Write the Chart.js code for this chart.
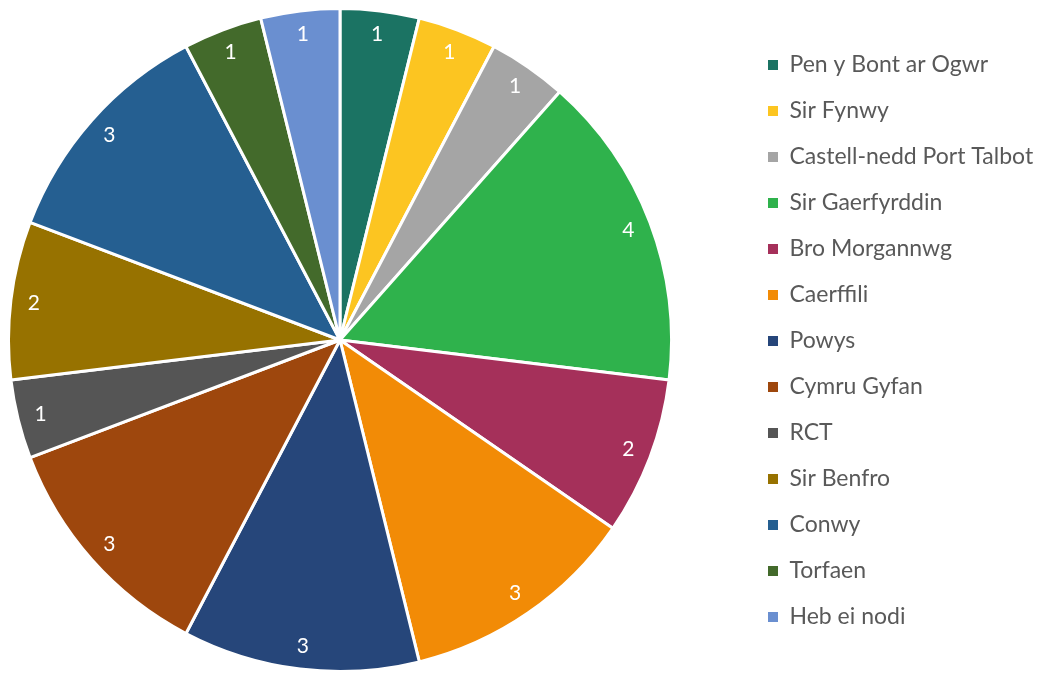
<!DOCTYPE html>
<html>
<head>
<meta charset="utf-8">
<script src="https://cdn.jsdelivr.net/npm/chart.js@4.4.1/dist/chart.umd.min.js"></script>
<style>
  html, body { margin: 0; padding: 0; background: #fff; overflow: hidden; }
  #wrap { width: 1041px; height: 673px; overflow: hidden; position: relative; }
  #pieChart { position: absolute; top: 0; left: 0; }
</style>
</head>
<body>
<div id="wrap"><canvas id="pieChart" width="1200" height="673"></canvas></div>
<script>
const labels = [
  "Pen y Bont ar Ogwr",
  "Sir Fynwy",
  "Castell-nedd Port Talbot",
  "Sir Gaerfyrddin",
  "Bro Morgannwg",
  "Caerffili",
  "Powys",
  "Cymru Gyfan",
  "RCT",
  "Sir Benfro",
  "Conwy",
  "Torfaen",
  "Heb ei nodi",
];
const counts = [1, 1, 1, 4, 2, 3, 3, 3, 1, 2, 3, 1, 1];
const colors = [
  "#1b7363",
  "#fcc521",
  "#a5a5a5",
  "#2fb24c",
  "#a5305a",
  "#f28b06",
  "#26467a",
  "#9e470d",
  "#555555",
  "#977200",
  "#255f91",
  "#436a2b",
  "#6a8fd0",
];

const fontFamily = "Lato, 'Open Sans', sans-serif";
const canvas = document.getElementById("pieChart");
const defaultLabels = Chart.overrides.pie.plugins.legend.labels.generateLabels;

// white value labels inside each slice, near the outer edge
const sliceLabels = {
  id: "sliceLabels",
  afterDatasetsDraw(chart) {
    const ctx = chart.ctx;
    const meta = chart.getDatasetMeta(0);
    ctx.save();
    ctx.fillStyle = "#ffffff";
    ctx.font = "21px " + fontFamily;
    ctx.textAlign = "center";
    ctx.textBaseline = "middle";
    meta.data.forEach((arc, i) => {
      const p = arc.getProps(["x", "y", "startAngle", "endAngle", "outerRadius"], true);
      const mid = (p.startAngle + p.endAngle) / 2;
      const r = p.outerRadius * 0.93;
      ctx.fillText(String(counts[i]), p.x + Math.cos(mid) * r, p.y + Math.sin(mid) * r);
    });
    ctx.restore();
  },
};

const chart = new Chart(canvas, {
  type: "pie",
  data: {
    labels: labels,
    datasets: [
      {
        data: counts,
        backgroundColor: colors,
        borderColor: "#ffffff",
        borderWidth: 3,
      },
    ],
  },
  options: {
    responsive: false,
    animation: false,
    layout: {
      padding: { left: 0, right: 0, top: 7, bottom: -2 },
    },
    plugins: {
      tooltip: { enabled: false },
      legend: {
        position: "right",
        align: "center",
        labels: {
          boxWidth: 10,
          boxHeight: 10,
          padding: 23,
          color: "#595959",
          font: { family: fontFamily, size: 23 },
          // plain squares, without the white slice border
          generateLabels(chart) {
            return defaultLabels(chart).map((item) => ({ ...item, lineWidth: 0 }));
          },
        },
      },
    },
  },
  plugins: [sliceLabels],
});

// put the legend's left edge at 810 on the canvas, then slide the canvas so the pie centre sits at x=340
chart.options.layout.padding.right = 1200 - 810 - chart.legend.width;
chart.update();
const cx = chart.getDatasetMeta(0).data[0].x;
canvas.style.left = Math.round(340 - cx) + "px";
</script>
</body>
</html>
